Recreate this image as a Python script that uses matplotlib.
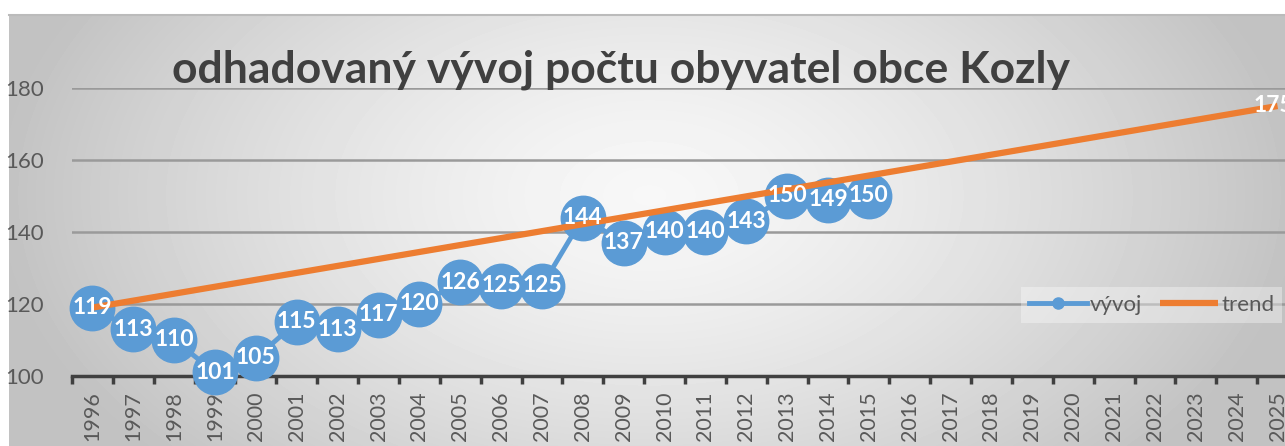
import numpy as np
import matplotlib
matplotlib.use("Agg")
import matplotlib.pyplot as plt

# data
roky = list(range(1996, 2026))
vyvoj_roky = list(range(1996, 2016))
vyvoj = [119, 113, 110, 101, 105, 115, 113, 117, 120, 126,
         125, 125, 144, 137, 140, 140, 143, 150, 149, 150]
trend_roky = [1996, 2025]
trend = [119, 175]

modra = "#5B9BD5"
oranzova = "#ED7D31"
seda_text = "#595959"

plt.rcParams["font.family"] = ["Lato", "DejaVu Sans"]

fig = plt.figure(figsize=(12.85, 4.46), dpi=100)
fig.patch.set_facecolor("white")

# radial gradient background of the chart area
bg = fig.add_axes([9 / 1285, 0, 1 - 9 / 1285, 1 - 15 / 446])
yy, xx = np.mgrid[0:431, 0:1276]
r = np.sqrt(((xx - 640) / 760.0) ** 2 + ((yy - 180) / 460.0) ** 2)
shade = np.clip(0.97 - 0.26 * r ** 1.4, 0.76, 0.97)
bg.imshow(shade, cmap="gray", vmin=0, vmax=1, aspect="auto",
          extent=[0, 1, 0, 1], origin="upper")
bg.plot([0, 1], [1, 1], color="#BBBBBB", lw=1.5, transform=bg.transAxes, clip_on=False)
bg.set_axis_off()

ax = fig.add_axes([72 / 1285, 70 / 446, 1226 / 1285, 288 / 446])
ax.patch.set_alpha(0)

x_idx = {r: i for i, r in enumerate(roky)}
xv = [x_idx[r] for r in vyvoj_roky]
xt = [x_idx[r] for r in trend_roky]

ax.plot(xv, vyvoj, color=modra, lw=3.5, marker="o", markersize=32,
        label="vývoj", zorder=3, clip_on=False)
ax.plot(xt, trend, color=oranzova, lw=4.5, label="trend", zorder=4,
        clip_on=False, solid_capstyle="butt")

for x, v in zip(xv, vyvoj):
    ax.text(x, v, str(v), color="white", fontsize=16.5, fontweight="bold",
            ha="center", va="center", zorder=5)
ax.text(xt[-1] - 0.1, trend[-1], str(trend[-1]), color="white", fontsize=16.5,
        fontweight="bold", ha="center", va="center", zorder=5)

ax.set_xlim(-0.5, len(roky) - 0.5)
ax.set_ylim(100, 180)
ax.set_yticks([100, 120, 140, 160, 180])
ax.set_xticks(range(len(roky)))
ax.set_xticklabels([str(r) for r in roky], rotation=90)
ax.set_xticks(np.arange(-0.5, len(roky), 1), minor=True)
ax.tick_params(axis="x", which="major", length=0, pad=11, labelsize=15.5,
               labelcolor=seda_text)
ax.tick_params(axis="x", which="minor", length=6, width=2.5, color="#404040",
               direction="out")
ax.tick_params(axis="y", length=0, pad=20, labelsize=16, labelcolor=seda_text)

ax.grid(axis="y", color="#9A9A9A", lw=1.8)
ax.set_axisbelow(True)
for s in ["left", "right", "top"]:
    ax.spines[s].set_visible(False)
ax.spines["bottom"].set_color("#404040")
ax.spines["bottom"].set_linewidth(2.5)
ax.spines["bottom"].set_zorder(2.5)

fig.text(621 / 1285, 1 - 70 / 446, "odhadovaný vývoj počtu obyvatel obce Kozly",
         ha="center", va="center", fontsize=32, fontweight="bold", color="#404040")

leg = ax.legend(loc="upper left", bbox_to_anchor=(1010 / 1285, 1 - 276 / 446),
                bbox_transform=fig.transFigure, ncol=2, frameon=True,
                fontsize=16, handlelength=2.6, columnspacing=0.8,
                handletextpad=0.15, borderpad=0.35, markerscale=0.25)
leg.get_frame().set_facecolor("white")
leg.get_frame().set_alpha(0.35)
leg.get_frame().set_edgecolor("none")
leg.get_frame().set_boxstyle("square", pad=0)
for t in leg.get_texts():
    t.set_color(seda_text)

fig.savefig("out.png", dpi=100)
